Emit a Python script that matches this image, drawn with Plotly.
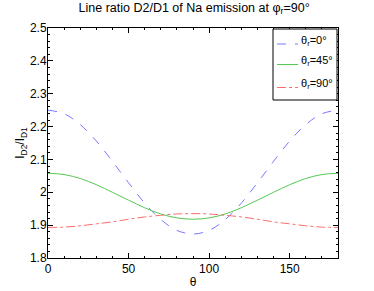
import plotly.graph_objects as go

theta = [0, 10, 20, 30, 40, 50, 60, 70, 80, 90, 100, 110, 120, 130, 140, 150, 160, 170, 180]
ratio_r0 = [2.250, 2.239, 2.206, 2.156, 2.094, 2.029, 1.967, 1.917, 1.884, 1.873,
            1.884, 1.917, 1.967, 2.029, 2.094, 2.156, 2.206, 2.239, 2.250]
ratio_r45 = [2.058, 2.054, 2.042, 2.023, 2.000, 1.976, 1.953, 1.934, 1.922, 1.918,
             1.922, 1.934, 1.953, 1.976, 2.000, 2.023, 2.042, 2.054, 2.058]
ratio_r90 = [1.893, 1.894, 1.898, 1.904, 1.910, 1.918, 1.925, 1.930, 1.934, 1.935,
             1.934, 1.930, 1.925, 1.918, 1.910, 1.904, 1.898, 1.894, 1.893]
names = ["θ<sub>r</sub>=0°", "θ<sub>r</sub>=45°", "θ<sub>r</sub>=90°"]
colors = ["#7878ff", "#55c855", "#ff6c6c"]
dashes = ["dash", "solid", "dashdot"]

font = "Liberation Sans, Arial, Helvetica, sans-serif"

fig = go.Figure()
for ys, nm, c, d in zip([ratio_r0, ratio_r45, ratio_r90], names, colors, dashes):
    fig.add_trace(go.Scatter(x=theta, y=ys, mode="lines", name=nm, showlegend=False,
                             line=dict(color=c, width=1, dash=d, shape="spline")))

axis_common = dict(showline=True, linecolor="black", linewidth=1, mirror="allticks",
                   ticks="inside", ticklen=5, tickcolor="black", showgrid=False,
                   zeroline=False, automargin=False,
                   tickfont=dict(size=12, color="black", family=font))

fig.update_xaxes(range=[0, 180], tick0=0, dtick=50,
                 minor=dict(ticks="inside", ticklen=2, dtick=10, tickcolor="black"),
                 title=dict(text="θ", font=dict(size=12, color="black", family=font), standoff=2),
                 **axis_common)
fig.update_yaxes(range=[1.8, 2.5], tick0=1.8, dtick=0.1,
                 minor=dict(ticks="inside", ticklen=2, dtick=0.02, tickcolor="black"),
                 ticklabelstandoff=-2,
                 title=dict(text="I<sub>D2</sub>/I<sub>D1</sub>", font=dict(size=12, color="black", family=font), standoff=2),
                 **axis_common)

# manual legend (box, sample lines, labels) in plot-area fractions
box = dict(x0=(273 - 48) / 290, x1=(337 - 48) / 290, y0=(258 - 100) / 230, y1=(258 - 29) / 230)
fig.add_shape(type="rect", xref="paper", yref="paper", **box,
              line=dict(color="black", width=1), fillcolor="white", layer="above")
line_y = [(258 - 44) / 230, (258 - 64.5) / 230, (258 - 87.5) / 230]
for ly, nm, c, d in zip(line_y, names, colors, dashes):
    fig.add_shape(type="line", xref="paper", yref="paper",
                  x0=(277 - 48) / 290, x1=(298 - 48) / 290, y0=ly, y1=ly,
                  line=dict(color=c, width=1, dash=d), layer="above")
    fig.add_annotation(xref="paper", yref="paper", x=(299 - 48) / 290, y=ly + 3 / 230,
                       xanchor="left", yanchor="middle", text=nm, showarrow=False,
                       font=dict(size=11, color="black", family=font))

fig.update_layout(
    width=374, height=291,
    margin=dict(l=48, r=36, t=28, b=33),
    paper_bgcolor="white", plot_bgcolor="white",
    font=dict(family=font, size=12, color="black"),
    showlegend=False,
    title=dict(text="Line ratio D2/D1 of Na emission at φ<sub>r</sub>=90°",
               x=0.519, xanchor="center", y=1 - 3 / 291, yanchor="top",
               font=dict(size=12.5, color="black", family=font)),
)

fig.write_html("out.html", config={"displayModeBar": False},
               post_script="document.body.style.margin='0';")
